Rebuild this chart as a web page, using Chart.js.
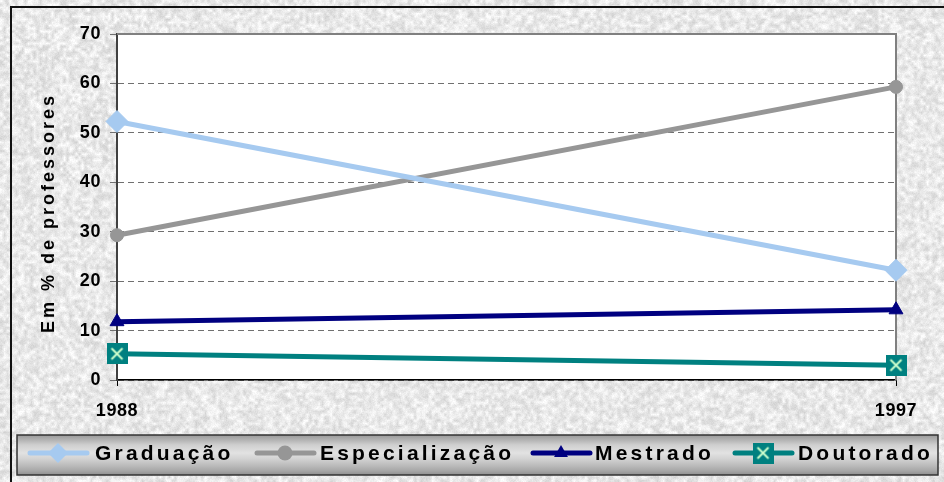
<!DOCTYPE html>
<html>
<head>
<meta charset="utf-8">
<title>Professores por titulação</title>
<script src="https://cdn.jsdelivr.net/npm/chart.js@4/dist/chart.umd.min.js"></script>
<style>
  html, body { margin: 0; padding: 0; background: #e4e4e4; }
  #wrap { position: relative; width: 944px; height: 482px; }
  canvas { display: block; }
</style>
</head>
<body>
<div id="wrap"><canvas id="c" width="944" height="482"></canvas></div>
<script>
// Share of teachers by highest degree, 1988 vs 1997 (%)
const years = ['1988', '1997'];
const graduacao = [52.3, 22.2];
const especializacao = [29.3, 59.3];
const mestrado = [11.8, 14.2];
const doutorado = [5.3, 3.0];
const seriesNames = ['Graduação', 'Especialização', 'Mestrado', 'Doutorado'];
const yTicks = [0, 10, 20, 30, 40, 50, 60, 70];
const yTitle = 'Em % de professores';

const FONT = '"Liberation Sans", Arial, Helvetica, sans-serif';

// Legend layout: symbol centre and label start for each entry
const legendSymbolX = [58, 285, 561, 763];
const legendTextX = [95, 320, 595, 798];

// Teal square marker with a pale cross
function crossSquare(size) {
  const c = document.createElement('canvas');
  c.width = size; c.height = size;
  const g = c.getContext('2d');
  g.fillStyle = '#008080';
  g.fillRect(0, 0, size, size);
  g.strokeStyle = '#ccffcc';
  g.lineWidth = 2;
  const m = 5;
  g.beginPath();
  g.moveTo(m, m); g.lineTo(size - m, size - m);
  g.moveTo(size - m, m); g.lineTo(m, size - m);
  g.stroke();
  return c;
}
const squareMarker = crossSquare(21);

// Granite-like paper texture for the chart background
function makeTexture(w, h) {
  let seed = 918273;
  const rnd = () => {
    seed = (seed + 0x6D2B79F5) | 0;
    let t = Math.imul(seed ^ (seed >>> 15), 1 | seed);
    t = (t + Math.imul(t ^ (t >>> 7), 61 | t)) ^ t;
    return ((t ^ (t >>> 14)) >>> 0) / 4294967296;
  };
  const sw = Math.ceil(w / 3), sh = Math.ceil(h / 3);
  const small = document.createElement('canvas');
  small.width = sw; small.height = sh;
  const sctx = small.getContext('2d');
  const simg = sctx.createImageData(sw, sh);
  for (let i = 0; i < sw * sh; i++) {
    const v = 212 + rnd() * 42;
    simg.data[i * 4] = v; simg.data[i * 4 + 1] = v; simg.data[i * 4 + 2] = v; simg.data[i * 4 + 3] = 255;
  }
  sctx.putImageData(simg, 0, 0);
  const tex = document.createElement('canvas');
  tex.width = w; tex.height = h;
  const t = tex.getContext('2d');
  t.imageSmoothingEnabled = true;
  t.drawImage(small, 0, 0, w, h);
  const img = t.getImageData(0, 0, w, h);
  for (let i = 0; i < w * h; i++) {
    const d = (rnd() - 0.5) * 12;
    img.data[i * 4] += d; img.data[i * 4 + 1] += d; img.data[i * 4 + 2] += d;
  }
  t.putImageData(img, 0, 0);
  return tex;
}
const texture = makeTexture(944, 482);

const styles = [
  { color: '#a6caf0', pointStyle: 'rectRot', radius: 11, legendRadius: 10 },
  { color: '#969696', pointStyle: 'circle', radius: 6.5, legendRadius: 7.5 },
  { color: '#000080', pointStyle: 'triangle', radius: 8, legendRadius: 8 },
  { color: '#008080', pointStyle: squareMarker, radius: 10, legendRadius: 10 }
];
const seriesValues = [graduacao, especializacao, mestrado, doutorado];

const datasets = seriesNames.map((name, i) => ({
  label: name,
  data: seriesValues[i],
  borderColor: styles[i].color,
  backgroundColor: styles[i].color,
  borderWidth: 5,
  pointStyle: styles[i].pointStyle,
  pointRadius: styles[i].radius,
  pointHoverRadius: styles[i].radius,
  pointBackgroundColor: styles[i].color,
  pointBorderColor: styles[i].color,
  pointBorderWidth: 1,
  tension: 0,
  clip: false
}));

function drawMarker(ctx, style, x, y, r) {
  ctx.fillStyle = style.color;
  if (style.pointStyle === 'rectRot') {
    ctx.beginPath();
    ctx.moveTo(x, y - r); ctx.lineTo(x + r, y); ctx.lineTo(x, y + r); ctx.lineTo(x - r, y);
    ctx.closePath(); ctx.fill();
  } else if (style.pointStyle === 'circle') {
    ctx.beginPath(); ctx.arc(x, y, r, 0, Math.PI * 2); ctx.fill();
  } else if (style.pointStyle === 'triangle') {
    const h = r * 1.5;
    ctx.beginPath();
    ctx.moveTo(x, y - r); ctx.lineTo(x + r * 0.87, y + h - r); ctx.lineTo(x - r * 0.87, y + h - r);
    ctx.closePath(); ctx.fill();
  } else {
    const s = style.pointStyle;
    ctx.drawImage(s, x - s.width / 2, y - s.height / 2);
  }
}

const decor = {
  id: 'decor',
  beforeDraw(chart) {
    const { ctx, chartArea: a } = chart;
    ctx.save();
    ctx.letterSpacing = '0px';
    ctx.drawImage(texture, 0, 0);
    ctx.fillStyle = '#ffffff';
    ctx.fillRect(a.left, a.top, a.right - a.left, a.bottom - a.top);
    // outer frame
    ctx.strokeStyle = '#111111';
    ctx.lineWidth = 2;
    ctx.beginPath();
    ctx.moveTo(11, 482); ctx.lineTo(11, 7); ctx.lineTo(944, 7);
    ctx.stroke();
    ctx.restore();
    ctx.letterSpacing = '0.6px';
  },
  beforeDatasetsDraw(chart) {
    const { ctx, chartArea: a } = chart;
    ctx.save();
    ctx.strokeStyle = '#808080';
    ctx.lineWidth = 2;
    ctx.beginPath();
    ctx.moveTo(a.left, a.top); ctx.lineTo(a.right, a.top); ctx.lineTo(a.right, a.bottom);
    ctx.stroke();
    ctx.restore();
  },
  afterDraw(chart) {
    const { ctx, chartArea: a } = chart;
    ctx.save();
    // axis title
    ctx.letterSpacing = '3px';
    ctx.font = 'bold 18px ' + FONT;
    ctx.fillStyle = '#000';
    ctx.textAlign = 'center';
    ctx.textBaseline = 'middle';
    ctx.translate(49, (a.top + a.bottom) / 2 + 6);
    ctx.rotate(-Math.PI / 2);
    ctx.fillText(yTitle, 0, 0);
    ctx.restore();

    // legend box
    ctx.save();
    ctx.letterSpacing = '0px';
    const bx = 17, by = 435, bw = 921, bh = 40;
    const g = ctx.createLinearGradient(0, by, 0, by + bh);
    g.addColorStop(0, '#9a9a9a');
    g.addColorStop(0.12, '#b2b2b2');
    g.addColorStop(0.25, '#cfcfcf');
    g.addColorStop(0.45, '#e2e2e2');
    g.addColorStop(0.6, '#d2d2d2');
    g.addColorStop(0.75, '#bdbdbd');
    g.addColorStop(0.9, '#a6a6a6');
    g.addColorStop(1, '#8e8e8e');
    ctx.fillStyle = g;
    ctx.fillRect(bx, by, bw, bh);
    ctx.strokeStyle = '#333333';
    ctx.lineWidth = 1.5;
    ctx.strokeRect(bx, by, bw, bh);

    const cy = 453;
    chart.data.datasets.forEach((ds, i) => {
      const st = styles[i];
      const sx = legendSymbolX[i];
      ctx.letterSpacing = '0px';
      ctx.strokeStyle = st.color;
      ctx.lineWidth = 5;
      ctx.lineCap = 'round';
      ctx.beginPath(); ctx.moveTo(sx - 28, cy); ctx.lineTo(sx + 29, cy); ctx.stroke();
      drawMarker(ctx, st, sx, cy, st.legendRadius);
      ctx.letterSpacing = '3.2px';
      ctx.font = 'bold 21px ' + FONT;
      ctx.fillStyle = '#000';
      ctx.textAlign = 'left';
      ctx.textBaseline = 'alphabetic';
      ctx.fillText(ds.label, legendTextX[i], 460);
    });
    ctx.restore();
    ctx.letterSpacing = '0px';
  }
};

new Chart(document.getElementById('c'), {
  type: 'line',
  data: { labels: years, datasets },
  options: {
    responsive: false,
    animation: false,
    devicePixelRatio: 1,
    layout: { padding: { left: 0, right: 48, top: 34, bottom: 0 } },
    plugins: { legend: { display: false }, tooltip: { enabled: false } },
    scales: {
      x: {
        type: 'category',
        offset: false,
        afterFit(scale) { scale.height = 102; },
        grid: { offset: false, drawOnChartArea: false, drawTicks: true, tickLength: 6, tickColor: '#000', tickWidth: 1 },
        border: { display: true, color: '#000', width: 1.5 },
        ticks: {
          autoSkip: false, maxRotation: 0, padding: 14, color: '#000',
          font: { family: FONT, size: 18, weight: 'bold' }
        }
      },
      y: {
        min: 0,
        max: 70,
        afterFit(scale) { scale.width = 117; },
        afterBuildTicks(scale) { scale.ticks = yTicks.map(v => ({ value: v })); },
        grid: { color: '#707070', lineWidth: 1, tickLength: 7, tickColor: '#707070', drawTicks: true },
        border: { display: true, color: '#404040', width: 2, dash: [6, 4] },
        ticks: {
          padding: 9, color: '#000',
          font: { family: FONT, size: 18, weight: 'bold' }
        }
      }
    }
  },
  plugins: [decor]
});
</script>
</body>
</html>
